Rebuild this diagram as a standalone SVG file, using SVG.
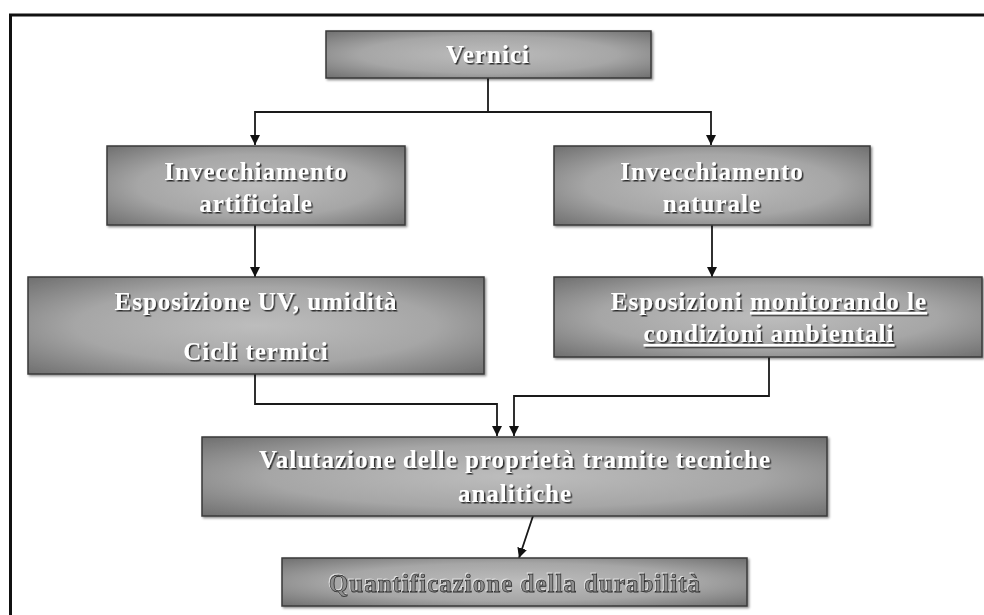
<svg xmlns="http://www.w3.org/2000/svg" width="984" height="615" viewBox="0 0 984 615">
  <defs>
    <radialGradient id="boxgrad" cx="0.5" cy="0.5" r="0.72">
      <stop offset="0" stop-color="#bdbdbd"/>
      <stop offset="0.55" stop-color="#a6a6a6"/>
      <stop offset="1" stop-color="#6c6c6c"/>
    </radialGradient>
    <filter id="boxshadow" x="-5%" y="-10%" width="110%" height="125%">
      <feDropShadow dx="1.5" dy="1.5" stdDeviation="1" flood-color="#000" flood-opacity="0.45"/>
    </filter>
    <filter id="txtshadow" x="-5%" y="-20%" width="110%" height="150%">
      <feDropShadow dx="1.5" dy="1.5" stdDeviation="0.7" flood-color="#1a1a1a" flood-opacity="0.9"/>
    </filter>
    <filter id="emboss" x="-5%" y="-20%" width="110%" height="150%">
      <feDropShadow dx="-1" dy="-1" stdDeviation="0.4" flood-color="#e6e6e6" flood-opacity="0.9"/>
    </filter>
    <marker id="arrow" markerUnits="userSpaceOnUse" markerWidth="10" markerHeight="10" refX="10" refY="5" orient="auto">
      <path d="M0,0 L10,5 L0,10 z" fill="#111"/>
    </marker>
    <style>
      .box { fill: url(#boxgrad); stroke: #3a3a3a; stroke-width: 1.5; filter: url(#boxshadow); }
      .lbl { font-family: "Liberation Serif", "Times New Roman", serif; font-weight: bold; font-size: 25px; letter-spacing: 1px; fill: #ffffff; text-anchor: middle; filter: url(#txtshadow); }
      .emb { font-family: "Liberation Serif", "Times New Roman", serif; font-weight: bold; font-size: 25px; letter-spacing: 1px; fill: #8e8e8e; stroke: #2e2e2e; stroke-width: 0.8; text-anchor: middle; filter: url(#emboss); }
      .conn { fill: none; stroke: #1a1a1a; stroke-width: 1.8; }
      .frame { fill: none; stroke: #111; stroke-width: 3; }
    </style>
  </defs>

  <rect x="0" y="0" width="984" height="615" fill="#ffffff"/>
  <path class="frame" d="M10.5,615 V15 H984"/>

  <g id="connectors">
    <path class="conn" d="M488,78 V112 H255 V145" marker-end="url(#arrow)"/>
    <path class="conn" d="M488,112 H711 V145" marker-end="url(#arrow)"/>
    <path class="conn" d="M255,225 V277" marker-end="url(#arrow)"/>
    <path class="conn" d="M712,225 V277" marker-end="url(#arrow)"/>
    <path class="conn" d="M255,374 V404 H497 V436" marker-end="url(#arrow)"/>
    <path class="conn" d="M769,357 V396 H514 V436" marker-end="url(#arrow)"/>
    <path class="conn" d="M533,516 L519,558" marker-end="url(#arrow)"/>
  </g>

  <g id="n-vernici">
    <rect class="box" x="326" y="31" width="325" height="47"/>
    <text class="lbl" x="488" y="63">Vernici</text>
  </g>

  <g id="n-invecchiamento-artificiale">
    <rect class="box" x="107" y="146" width="298" height="79"/>
    <text class="lbl" x="256" y="180">Invecchiamento</text>
    <text class="lbl" x="256" y="212">artificiale</text>
  </g>

  <g id="n-invecchiamento-naturale">
    <rect class="box" x="554" y="146" width="316" height="79"/>
    <text class="lbl" x="712" y="180">Invecchiamento</text>
    <text class="lbl" x="712" y="212">naturale</text>
  </g>

  <g id="n-esposizione-uv">
    <rect class="box" x="28" y="277" width="456" height="97"/>
    <text class="lbl" x="256" y="310">Esposizione UV, umidità</text>
    <text class="lbl" x="256" y="360">Cicli termici</text>
  </g>

  <g id="n-esposizioni-monitorando">
    <rect class="box" x="554" y="277" width="428" height="80"/>
    <text class="lbl" x="769" y="310">Esposizioni <tspan text-decoration="underline">monitorando le</tspan></text>
    <text class="lbl" x="769" y="342" text-decoration="underline">condizioni ambientali</text>
  </g>

  <g id="n-valutazione">
    <rect class="box" x="202" y="437" width="625" height="79"/>
    <text class="lbl" x="515" y="468">Valutazione delle proprietà tramite tecniche</text>
    <text class="lbl" x="515" y="502">analitiche</text>
  </g>

  <g id="n-quantificazione">
    <rect class="box" x="282" y="558" width="465" height="48"/>
    <text class="emb" x="515" y="592">Quantificazione della durabilità</text>
  </g>
</svg>
